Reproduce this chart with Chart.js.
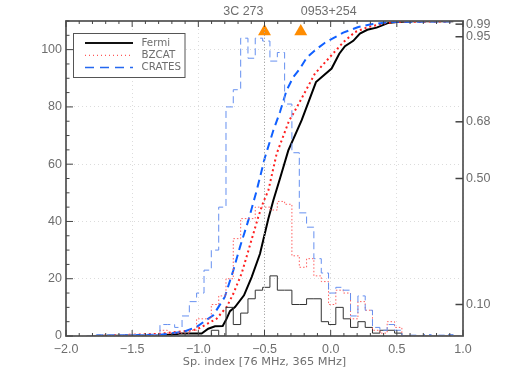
<!DOCTYPE html>
<html>
<head>
<meta charset="utf-8">
<script src="https://cdn.jsdelivr.net/npm/chart.js@4"></script>
<style>html,body{margin:0;padding:0;background:#fff}canvas{display:block}</style>
</head>
<body>
<canvas id="c" width="529" height="378"></canvas>
<script>
const binEdges = [-1.843,-1.788,-1.733,-1.677,-1.622,-1.567,-1.511,-1.456,-1.400,-1.345,-1.290,-1.234,-1.179,-1.123,-1.068,-1.013,-0.957,-0.902,-0.846,-0.791,-0.736,-0.680,-0.625,-0.570,-0.514,-0.459,-0.403,-0.348,-0.293,-0.237,-0.182,-0.127,-0.071,-0.016,0.039,0.095,0.150,0.206,0.261,0.316,0.372,0.427,0.483,0.538,0.594,0.649,0.705,0.760,0.815,0.871,0.926,0.981];
const fermiHist = [0,0,0,0,0,0,0,0,0,0,0,0,0,0,0,0,0,2,0,10,4,8,13,16,17,21,16,16,11,11,13,13,5,4,10,6,3,5,3,1,2,2,1,0,0,0,0,0,0,0,0,0];
const bzcatHist = [0,0,0,0.2,0.2,0,0.2,0,0.2,0.2,2,1,1,1,2,6,6,11,14,20,34,41,41,45,45,44,47,46,28,24,27,21,19,11,16,15,6,12,9,2,1,5,3,0,0,0,0,0,0,0,0,0];
const cratesHist = [0,0.5,0.5,0.5,0.5,0.5,0.5,0.5,0.5,0.5,4,4,3,7,12,15,23,30,45,80,86,104,97,104,103,96,99,81,64,43,38,27,22,15,17,16,7,14,9,3,2,4,2,0,0.3,0,0.5,0,0.3,0.5,0,0];

const fermiCdfX = [-1.79,-1.29,-1.176,-1.14,-0.975,-0.925,-0.874,-0.816,-0.786,-0.761,-0.723,-0.655,-0.597,-0.534,-0.471,-0.433,-0.383,-0.32,-0.219,-0.111,0.007,0.065,0.108,0.171,0.221,0.277,0.347,0.436,0.499,0.624,0.927];
const fermiCdfY = [0,0.002,0.005,0.008,0.008,0.023,0.031,0.032,0.055,0.079,0.092,0.129,0.187,0.261,0.372,0.431,0.5,0.589,0.685,0.806,0.849,0.896,0.92,0.937,0.96,0.972,0.979,0.994,0.997,0.999,0.999];
const bzcatCdfX = [-1.79,-1.29,-1.164,-1.04,-0.987,-0.862,-0.786,-0.736,-0.673,-0.61,-0.547,-0.509,-0.471,-0.408,-0.313,-0.282,-0.207,-0.119,-0.005,0.096,0.184,0.284,0.423,0.5,0.927];
const bzcatCdfY = [0,0.007,0.013,0.018,0.026,0.055,0.092,0.134,0.198,0.288,0.378,0.425,0.462,0.579,0.685,0.706,0.764,0.833,0.886,0.933,0.965,0.981,0.994,0.997,0.999];
const cratesCdfX = [-1.79,-1.29,-1.113,-1.013,-0.887,-0.8,-0.736,-0.685,-0.622,-0.559,-0.496,-0.433,-0.383,-0.333,-0.282,-0.232,-0.181,-0.119,-0.043,0.095,0.209,0.297,0.448,0.927];
const cratesCdfY = [0,0.004,0.013,0.029,0.066,0.124,0.208,0.283,0.367,0.462,0.568,0.653,0.711,0.78,0.822,0.849,0.884,0.907,0.931,0.963,0.981,0.989,0.997,0.999];

const sourceNames = ["3C 273","0953+254"];
const sourceX = [-0.5,-0.226];
const markerLevel = [0.967,0.967];
const guideX = [-0.5,-0.5];
const guideY = [0,1];
const rightTicks = [0.10,0.50,0.68,0.95,0.99];
const legendNames = ["Fermi","BZCAT","CRATES"];

const FONT = "'DejaVu Sans'";
const NUMFONT = "'Liberation Sans'";
const TXT = "#6e6e6e";
const AXIS = "#5a5a5a";
const pairs = (xs,ys)=>xs.map((x,i)=>({x,y:ys[i]}));

const frame = {
  id:'frame',
  afterDatasetsDraw(ch){
    const {ctx,chartArea:a,scales:{x,y,y2}} = ch;
    ctx.save();
    ctx.strokeStyle = AXIS; ctx.lineWidth = 1.8;
    ctx.strokeRect(a.left,a.top,a.right-a.left,a.bottom-a.top);
    ctx.strokeStyle = '#444'; ctx.lineWidth = 1;
    const line=(x0,y0,x1,y1)=>{ctx.beginPath();ctx.moveTo(x0,y0);ctx.lineTo(x1,y1);ctx.stroke();};
    for(let i=0;i<=30;i++){
      const v=-2+i*0.1, p=x.getPixelForValue(v), len=(i%5===0)?6:3;
      line(p,a.bottom,p,a.bottom-len); line(p,a.top,p,a.top+len);
    }
    for(let i=0;i<=22;i++){
      const v=i*5, p=y.getPixelForValue(v), len=(i%4===0)?7:3.5;
      line(a.left,p,a.left+len,p);
    }
    ctx.lineWidth = 1.5;
    rightTicks.forEach(t=>{const p=y2.getPixelForValue(t);line(a.right,p,a.right-7.5,p);});
    ctx.fillStyle = TXT; ctx.font = "12.5px "+NUMFONT; ctx.textBaseline='middle';
    ctx.textAlign='right'; ctx.fillText(sourceNames[0],x.getPixelForValue(sourceX[0])-1,12);
    ctx.textAlign='left'; ctx.fillText(sourceNames[1],x.getPixelForValue(sourceX[1]),12);
    // legend box
    const bx=73.5,by=33.5,bw=111.5,bh=44;
    ctx.fillStyle='#fff'; ctx.fillRect(bx,by,bw,bh);
    ctx.strokeStyle='#555'; ctx.lineWidth=1; ctx.strokeRect(bx,by,bw,bh);
    ctx.font = "10.3px "+FONT;
    const styles=[['#111',2,[]],['#ff3030',1,[1,3]],['#2468f0',1.5,[9,6]]];
    legendNames.forEach((n,i)=>{
      const ly=43+i*12.3;
      ctx.strokeStyle=styles[i][0];ctx.lineWidth=styles[i][1];ctx.setLineDash(styles[i][2]);
      line(85,ly,133,ly);ctx.setLineDash([]);
      ctx.fillStyle=TXT;ctx.textAlign='left';ctx.fillText(n,141.5,ly);
    });
    ctx.restore();
  }
};

new Chart(document.getElementById('c'),{
  type:'scatter',
  data:{datasets:[
    {data:pairs(guideX,guideY),yAxisID:'y2',showLine:true,borderColor:'#aaa',borderWidth:1,borderDash:[1,2],pointRadius:0},
    {data:pairs(binEdges,cratesHist),yAxisID:'y',showLine:true,stepped:'before',borderColor:'#6690f0',borderWidth:1,borderDash:[7,4],pointRadius:0},
    {data:pairs(binEdges,bzcatHist),yAxisID:'y',showLine:true,stepped:'before',borderColor:'#ff6060',borderWidth:1,borderDash:[1.5,2],pointRadius:0},
    {data:pairs(binEdges,fermiHist),yAxisID:'y',showLine:true,stepped:'before',borderColor:'#333',borderWidth:1,pointRadius:0},
    {data:pairs(cratesCdfX,cratesCdfY),yAxisID:'y2',showLine:true,borderColor:'#1060ff',borderWidth:2,borderDash:[8,5],pointRadius:0},
    {data:pairs(bzcatCdfX,bzcatCdfY),yAxisID:'y2',showLine:true,borderColor:'#ff2020',borderWidth:2,borderDash:[2,3],pointRadius:0},
    {data:pairs(fermiCdfX,fermiCdfY),yAxisID:'y2',showLine:true,borderColor:'#000',borderWidth:2,pointRadius:0},
    {data:pairs(sourceX,markerLevel),yAxisID:'y2',showLine:false,pointStyle:'triangle',pointRadius:7.5,backgroundColor:'#ff8c00',borderColor:'#ff8c00',borderWidth:0}
  ]},
  options:{
    responsive:false,animation:false,
    layout:{padding:{top:21,left:0,right:0,bottom:0}},
    plugins:{legend:{display:false},tooltip:{enabled:false}},
    scales:{
      x:{type:'linear',min:-2,max:1,
        afterFit(s){s.height=378-336;},
        grid:{color:'#dcdcdc',drawTicks:false,lineWidth:1},
        border:{display:false,dash:[1,3]},
        ticks:{stepSize:0.5,padding:6,color:TXT,font:{family:NUMFONT,size:12.5},maxRotation:0,
          callback:v=>(v<0?'\u2212':'')+Math.abs(v).toFixed(1)},
        title:{display:true,text:'Sp. index [76 MHz, 365 MHz]',color:TXT,font:{family:FONT,size:11.3},padding:{top:1,bottom:9}}
      },
      y:{type:'linear',position:'left',min:0,max:110,
        afterFit(s){s.width=66;},
        afterBuildTicks(s){s.ticks=s.ticks.filter(t=>t.value<=100);},
        grid:{color:'#dcdcdc',drawTicks:false,lineWidth:1},
        border:{display:false,dash:[1,3]},
        ticks:{stepSize:20,padding:4,color:TXT,font:{family:NUMFONT,size:12.5}}
      },
      y2:{type:'linear',position:'right',min:0,max:1,
        afterFit(s){s.width=66;},
        afterBuildTicks(s){s.ticks=rightTicks.map(v=>({value:v}));},
        grid:{display:false,drawTicks:false},
        border:{display:false},
        ticks:{padding:3,color:TXT,font:{family:NUMFONT,size:12.5},autoSkip:false,callback:v=>v.toFixed(2)}
      }
    }
  },
  plugins:[frame]
});
</script>
</body>
</html>
